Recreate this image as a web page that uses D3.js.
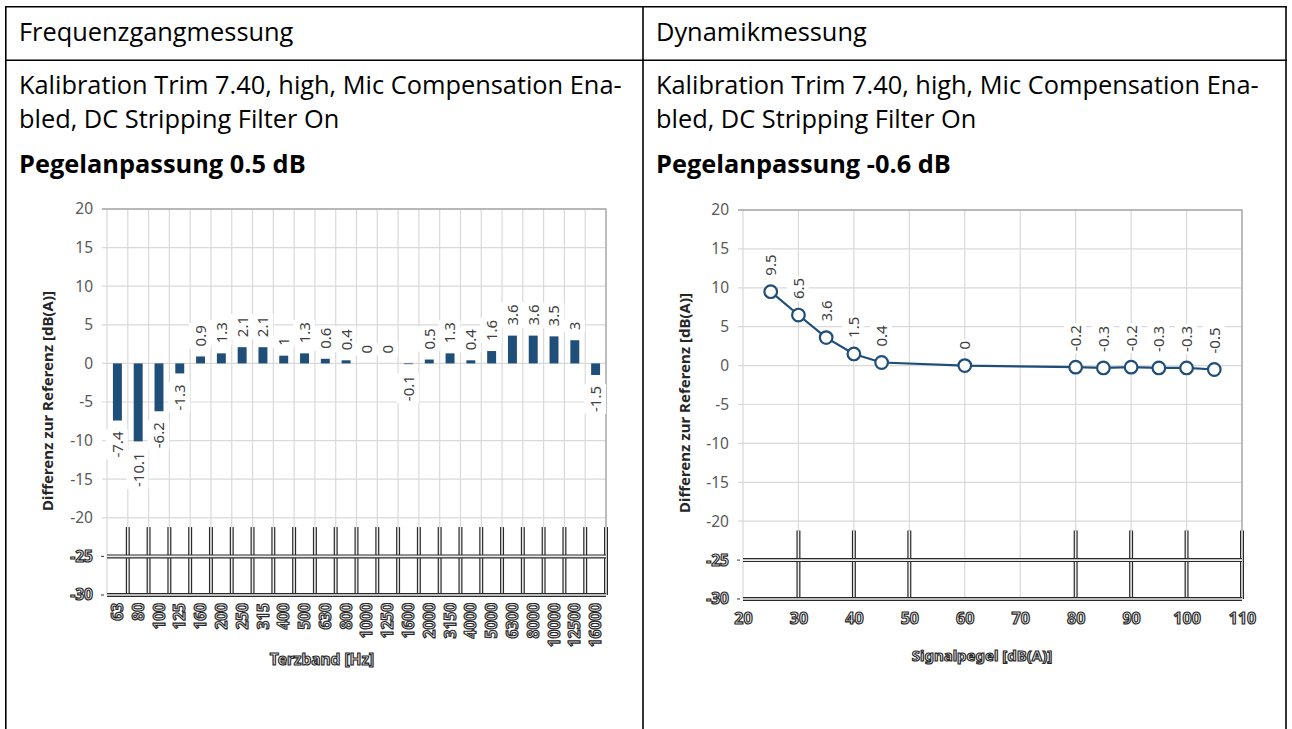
<!DOCTYPE html>
<html><head><meta charset="utf-8">
<script src="https://cdn.jsdelivr.net/npm/d3@7"></script>
<style>body{margin:0;background:#fff}svg{display:block}</style>
</head><body>
<svg id="c" width="1292" height="729"></svg>
<script>
// ---- data ----
const headers = ["Frequenzgangmessung", "Dynamikmessung"];
const infoLine1 = "Kalibration Trim 7.40, high, Mic Compensation Ena-";
const infoLine2 = "bled, DC Stripping Filter On";
const levelText = ["Pegelanpassung 0.5 dB", "Pegelanpassung -0.6 dB"];

const freqBands = ["63","80","100","125","160","200","250","315","400","500","630","800","1000","1250","1600","2000","3150","4000","5000","6300","8000","10000","12500","16000"];
const freqDiff = [-7.4,-10.1,-6.2,-1.3,0.9,1.3,2.1,2.1,1,1.3,0.6,0.4,0,0,-0.1,0.5,1.3,0.4,1.6,3.6,3.6,3.5,3,-1.5];

const dynLevels = [25,30,35,40,45,60,80,85,90,95,100,105];
const dynDiff = [9.5,6.5,3.6,1.5,0.4,0,-0.2,-0.3,-0.2,-0.3,-0.3,-0.5];

const yTicks = [20,15,10,5,0,-5,-10,-15,-20,-25,-30];
const dynTicks = [20,30,40,50,60,70,80,90,100,110];
const yTitle = "Differenz zur Referenz [dB(A)]";
const xTitles = ["Terzband [Hz]", "Signalpegel [dB(A)]"];

// ---- setup ----
const svg = d3.select("#c");
const BLUE = "#1f4e79";
const GRID = "#d9d9d9";
const LABEL = "#404040";
const TXTFONT = "'Open Sans', 'Noto Sans', sans-serif";
const CFONT = "'Noto Sans', sans-serif";
const fmt = d => String(d);

// table
const tbl = svg.append("g").attr("stroke", "#000").attr("stroke-width", 1.6);
tbl.append("line").attr("x1", 5.8).attr("x2", 5.8).attr("y1", 6.7).attr("y2", 729);
tbl.append("line").attr("x1", 643).attr("x2", 643).attr("y1", 6.7).attr("y2", 729);
tbl.append("line").attr("x1", 1286).attr("x2", 1286).attr("y1", 6.7).attr("y2", 729);
tbl.append("line").attr("x1", 5).attr("x2", 1287).attr("y1", 6.7).attr("y2", 6.7);
tbl.append("line").attr("x1", 5).attr("x2", 1287).attr("y1", 60.2).attr("y2", 60.2);

// fit font size so the long info line spans the measured width
const probe = svg.append("text").attr("font-family", TXTFONT).attr("font-size", 20).text(infoLine1);
const fs = 20 * 603 / probe.node().getComputedTextLength();
probe.remove();

[19, 656].forEach((x0, i) => {
  const g = svg.append("g").attr("font-family", TXTFONT).attr("font-size", fs).attr("fill", "#000");
  g.append("text").attr("x", x0).attr("y", 41).text(headers[i]);
  g.append("text").attr("x", x0).attr("y", 94).text(infoLine1);
  g.append("text").attr("x", x0).attr("y", 128).text(infoLine2);
  g.append("text").attr("x", x0).attr("y", 173).attr("font-weight", "bold").text(levelText[i]);
});

function outlined(sel) {
  return sel.attr("fill", "#f2f2f2").attr("stroke", "#262626").attr("stroke-width", 1.15)
    .attr("font-weight", "bold");
}

function dblLine(g, x1, y1, x2, y2) {
  g.append("line").attr("x1", x1).attr("y1", y1).attr("x2", x2).attr("y2", y2)
    .attr("stroke", "#2a2a2a").attr("stroke-width", 4);
  g.append("line").attr("x1", x1).attr("y1", y1).attr("x2", x2).attr("y2", y2)
    .attr("stroke", "#eeeeee").attr("stroke-width", 1.6);
}

function dataLabel(g, x, y, txt, up) {
  const grp = g.append("g").attr("transform", `translate(${x},${y}) rotate(-90)`);
  const t = grp.append("text").attr("text-anchor", up ? "start" : "end").attr("dy", "0.36em")
    .attr("font-family", CFONT).attr("font-size", 15).attr("fill", LABEL).text(txt);
  const b = t.node().getBBox();
  grp.insert("rect", "text").attr("x", b.x - 2).attr("y", b.y - 1)
    .attr("width", b.width + 4).attr("height", b.height + 2).attr("fill", "#fff");
}

function chartFrame(cfg) {
  const g = svg.append("g");
  const y = d3.scaleLinear().domain([-30, 20]).range([cfg.y1, cfg.y0]);
  const yd = y(-21.2);
  // horizontal grid (light part)
  g.append("g").selectAll("line").data(yTicks.filter(v => v > -25)).join("line")
    .attr("x1", cfg.x0 - 5).attr("x2", cfg.x1).attr("y1", d => y(d)).attr("y2", d => y(d))
    .attr("stroke", GRID).attr("stroke-width", 1.2);
  // vertical grid light part
  g.append("g").selectAll("line").data(cfg.vx).join("line")
    .attr("x1", d => d).attr("x2", d => d).attr("y1", cfg.y0).attr("y2", d => yd)
    .attr("stroke", GRID).attr("stroke-width", 1.2);
  // distorted lower region
  const dz = g.append("g");
  cfg.vx.forEach((vx, i) => {
    if (cfg.darkV(i)) dblLine(dz, vx, yd, vx, cfg.y1);
    else dz.append("line").attr("x1", vx).attr("x2", vx).attr("y1", yd).attr("y2", cfg.y1)
      .attr("stroke", GRID).attr("stroke-width", 1.2);
  });
  dblLine(dz, cfg.x0, y(-25), cfg.x1, y(-25));
  dblLine(dz, cfg.x0, y(-30), cfg.x1, y(-30));
  // small tick dashes at -25 / -30
  [-25, -30].forEach(v => dz.append("line").attr("x1", cfg.x0 - 6).attr("x2", cfg.x0 - 3)
    .attr("y1", y(v)).attr("y2", y(v)).attr("stroke", "#555").attr("stroke-width", 1.2));
  // frame top/right
  g.append("path").attr("d", `M${cfg.x0 - 5},${cfg.y0}H${cfg.x1}V${yd}`)
    .attr("fill", "none").attr("stroke", "#a6a6a6").attr("stroke-width", 1.3);
  // y axis
  const ax = g.append("g").attr("transform", `translate(${cfg.x0},0)`)
    .call(d3.axisLeft(y).tickValues(yTicks).tickFormat(fmt).tickSize(0).tickPadding(14));
  ax.select(".domain").remove();
  ax.selectAll("text").attr("font-family", CFONT).attr("font-size", 15.5).attr("fill", "#595959");
  ax.selectAll(".tick").filter(d => d <= -25).select("text").call(outlined);
  // y title
  g.append("text").attr("transform", `translate(${cfg.ytx},${cfg.yty}) rotate(-90)`)
    .attr("text-anchor", "middle").attr("font-family", CFONT).attr("font-size", 15)
    .attr("font-weight", "bold").attr("fill", "#262626").text(yTitle);
  return { g, y };
}

// ---- left chart: bars ----
(function () {
  const X0 = 107, X1 = 606;
  const x = d3.scaleBand().domain(freqBands).range([X0, X1]).paddingInner(0.57).paddingOuter(0.285);
  const step = x.step();
  const vx = d3.range(freqBands.length + 1).map(i => X0 + i * step);
  const { g, y } = chartFrame({ x0: X0, x1: X1, y0: 209, y1: 595, vx, darkV: i => i > 0, ytx: 53, yty: 401 });
  g.append("g").selectAll("rect").data(freqDiff).join("rect")
    .attr("x", (d, i) => x(freqBands[i])).attr("width", x.bandwidth())
    .attr("y", d => y(Math.max(0, d))).attr("height", d => Math.abs(y(d) - y(0)))
    .attr("fill", BLUE);
  const lg = g.append("g");
  freqDiff.forEach((d, i) => {
    const cx = x(freqBands[i]) + x.bandwidth() / 2;
    if (d >= 0) dataLabel(lg, cx, y(d) - 10, fmt(d), true);
    else dataLabel(lg, cx, y(d) + 11, fmt(d), false);
  });
  // x tick labels
  g.append("g").selectAll("text").data(freqBands).join("text")
    .attr("transform", d => `translate(${x(d) + x.bandwidth() / 2},603) rotate(-90)`)
    .attr("text-anchor", "end").attr("dy", "0.36em")
    .attr("font-family", CFONT).attr("font-size", 15.5).text(d => d).call(outlined);
  g.append("text").attr("x", 322).attr("y", 665).attr("text-anchor", "middle")
    .attr("font-family", CFONT).attr("font-size", 15.5).text(xTitles[0]).call(outlined);
})();

// ---- right chart: line ----
(function () {
  const X0 = 743, X1 = 1242;
  const x = d3.scaleLinear().domain([20, 110]).range([X0, X1]);
  const vx = dynTicks.map(d => x(d));
  const { g, y } = chartFrame({ x0: X0, x1: X1, y0: 210, y1: 599, vx,
    darkV: i => ![0, 4, 5].includes(i), ytx: 690, yty: 403 });
  const pts = dynLevels.map((l, i) => [l, dynDiff[i]]);
  g.append("path").datum(pts)
    .attr("d", d3.line().x(d => x(d[0])).y(d => y(d[1])))
    .attr("fill", "none").attr("stroke", BLUE).attr("stroke-width", 2.2);
  g.append("g").selectAll("circle").data(pts).join("circle")
    .attr("cx", d => x(d[0])).attr("cy", d => y(d[1])).attr("r", 6.3)
    .attr("fill", "#fff").attr("stroke", BLUE).attr("stroke-width", 2.2);
  const lg = g.append("g");
  pts.forEach(d => dataLabel(lg, x(d[0]), y(d[1]) - 16, fmt(d[1]), true));
  const xa = g.append("g").attr("transform", `translate(0,599)`)
    .call(d3.axisBottom(x).tickValues(dynTicks).tickFormat(fmt).tickSize(0).tickPadding(14));
  xa.select(".domain").remove();
  xa.selectAll("text").attr("font-family", CFONT).attr("font-size", 16).call(outlined);
  g.append("text").attr("x", 982).attr("y", 661).attr("text-anchor", "middle")
    .attr("font-family", CFONT).attr("font-size", 15).text(xTitles[1]).call(outlined);
})();
</script>
</body></html>
